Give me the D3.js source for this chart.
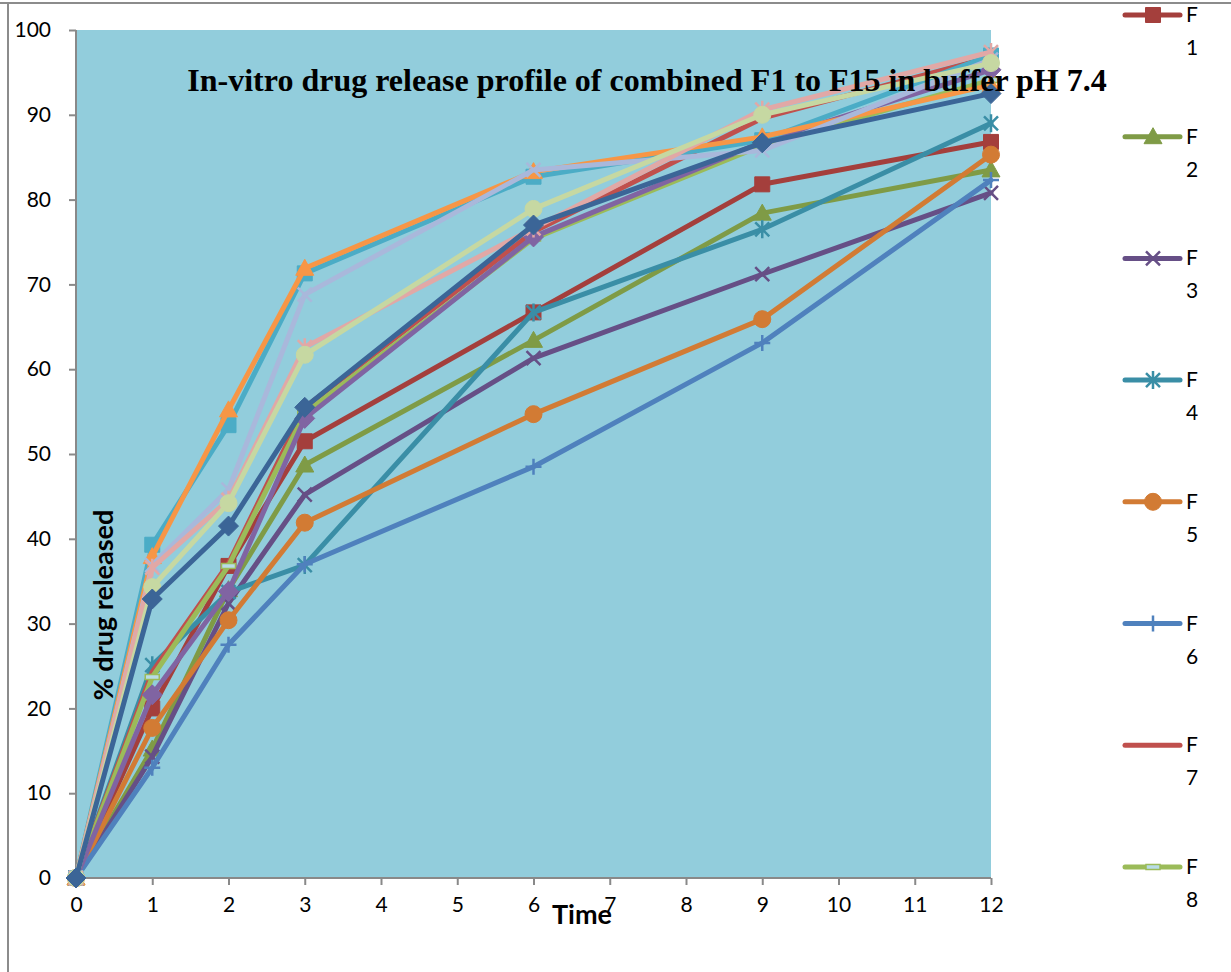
<!DOCTYPE html>
<html>
<head>
<meta charset="utf-8">
<script src="https://cdn.jsdelivr.net/npm/d3@7"></script>
<style>
  body { margin: 0; background: #fff; }
  svg { display: block; }
  .tick text { font-family: Lato, "Open Sans", sans-serif; font-size: 21px; fill: #000; }
</style>
</head>
<body>
<div id="chart"></div>
<script>
// sampling times (h)
const times = [0, 1, 2, 3, 6, 9, 12];

// % drug released per formulation
const F1  = [0, 20.0, 36.8, 51.5, 66.7, 81.8, 86.8];
const F2  = [0, 15.2, 34.0, 48.7, 63.4, 78.4, 83.5];
const F3  = [0, 14.3, 32.4, 45.2, 61.3, 71.2, 80.8];
const F4  = [0, 25.1, 33.7, 36.9, 66.7, 76.5, 89.0];
const F5  = [0, 17.7, 30.4, 41.9, 54.7, 65.9, 85.3];
const F6  = [0, 13.0, 27.5, 37.0, 48.5, 63.1, 82.3];
const F7  = [0, 24.3, 37.1, 55.5, 76.2, 89.6, 96.8];
const F8  = [0, 23.7, 36.8, 54.8, 75.4, 86.4, 94.1];
const F9  = [0, 21.6, 33.8, 54.2, 75.6, 86.8, 95.3];
const F10 = [0, 39.3, 53.4, 71.3, 82.7, 87.0, 97.0];
const F11 = [0, 37.9, 55.2, 71.9, 83.3, 87.4, 93.5];
const F12 = [0, 36.9, 45.8, 68.8, 83.5, 85.8, 96.5];
const F13 = [0, 36.6, 44.6, 62.6, 76.6, 90.6, 97.4];
const F14 = [0, 34.3, 44.2, 61.7, 78.9, 90.0, 96.1];
const F15 = [0, 32.9, 41.5, 55.5, 77.0, 86.7, 92.5];

const seriesNames = ['F1','F2','F3','F4','F5','F6','F7','F8','F9','F10','F11','F12','F13','F14','F15'];
const seriesValues = [F1, F2, F3, F4, F5, F6, F7, F8, F9, F10, F11, F12, F13, F14, F15];
const seriesColors = ['#a43f3c','#7f9b46','#664f86','#3a8ea6','#d27b34','#4f81bd','#c0504d','#9bbb59',
                      '#8064a2','#4bacc6','#f79646','#a9b8db','#e1a8a6','#c6d8a2','#3b6597'];
const seriesMarkers = ['square','triangle','x','star','circle','plus','none','dash',
                       'diamond','square','triangle','x','star','circle','diamond'];

const yTicks = [0, 10, 20, 30, 40, 50, 60, 70, 80, 90, 100];
const xTicks = [0, 1, 2, 3, 4, 5, 6, 7, 8, 9, 10, 11, 12];

const W = 1231, H = 972;
const margin = { left: 76, top: 30, right: 240, bottom: 94 };

const svg = d3.select('#chart').append('svg')
    .attr('width', W)
    .attr('height', H);

// page frame lines
svg.append('line').attr('x1', 0).attr('x2', W).attr('y1', 3).attr('y2', 3)
    .attr('stroke', '#8c8c8c').attr('stroke-width', 2);
svg.append('line').attr('x1', 8).attr('x2', 8).attr('y1', 3).attr('y2', H)
    .attr('stroke', '#8c8c8c').attr('stroke-width', 2);

const x = d3.scaleLinear().domain([0, 12]).range([margin.left, W - margin.right]);
const y = d3.scaleLinear().domain([0, 100]).range([H - margin.bottom, margin.top]);

// plot area
svg.append('rect')
    .attr('x', x(0)).attr('y', y(100))
    .attr('width', x(12) - x(0)).attr('height', y(0) - y(100))
    .attr('fill', '#92cddc');

const yAxis = d3.axisLeft(y).tickValues(yTicks).tickSize(7).tickPadding(18);
const xAxis = d3.axisBottom(x).tickValues(xTicks).tickSize(7).tickPadding(12);

const gy = svg.append('g').attr('transform', `translate(${x(0)},0)`).call(yAxis);
const gx = svg.append('g').attr('transform', `translate(0,${y(0)})`).call(xAxis);
[gx, gy].forEach(g => {
    g.select('.domain').attr('stroke', '#898989').attr('stroke-width', 2);
    g.selectAll('.tick line').attr('stroke', '#898989').attr('stroke-width', 2);
});
gy.select('.domain').attr('d', `M0,${y(0)}V${y(100)}`);
gx.select('.domain').attr('d', `M${x(0)},0H${x(12)}`);

function markerPath(type) {
    switch (type) {
        case 'square': return 'M-7.5,-7.5h15v15h-15Z';
        case 'triangle': return 'M0,-9L9,7L-9,7Z';
        case 'diamond': return 'M0,-10L10,0L0,10L-10,0Z';
        case 'circle': return 'M8.5,0A8.5,8.5 0 1,1 -8.5,0A8.5,8.5 0 1,1 8.5,0Z';
        case 'x': return 'M-7,-7L7,7M-7,7L7,-7';
        case 'star': return 'M-7,-7L7,7M-7,7L7,-7M0,-9V9';
        case 'plus': return 'M-8,0H8M0,-8V8';
        case 'dash': return 'M-7,-2.5h14v5h-14Z';
        default: return '';
    }
}
const strokeMarkers = ['x', 'star', 'plus'];

function drawMarker(g, type, color) {
    if (type === 'none') return;
    const p = g.append('path').attr('d', markerPath(type));
    if (strokeMarkers.includes(type)) {
        p.attr('fill', 'none').attr('stroke', color).attr('stroke-width', 2.5);
    } else if (type === 'dash') {
        p.attr('fill', '#b8dce6').attr('stroke', color).attr('stroke-width', 1.5);
    } else {
        p.attr('fill', color).attr('stroke', color).attr('stroke-width', 1);
    }
}

const line = d3.line()
    .x(d => x(d.t))
    .y(d => y(d.v));

seriesValues.forEach((vals, i) => {
    const pts = times.map((t, j) => ({ t: t, v: vals[j] }));
    const g = svg.append('g').attr('class', 'series');
    g.append('path')
        .datum(pts)
        .attr('d', line)
        .attr('fill', 'none')
        .attr('stroke', seriesColors[i])
        .attr('stroke-width', 5)
        .attr('stroke-linejoin', 'round')
        .attr('stroke-linecap', 'round');
    pts.forEach(d => {
        const m = g.append('g').attr('transform', `translate(${x(d.t)},${y(d.v)})`);
        drawMarker(m, seriesMarkers[i], seriesColors[i]);
    });
});

// title inside plot area
svg.append('text')
    .attr('x', 647)
    .attr('y', 91)
    .attr('text-anchor', 'middle')
    .style('font-family', '"Liberation Serif", "Times New Roman", serif')
    .style('font-weight', 'bold')
    .style('font-size', '32px')
    .text('In-vitro drug release profile of combined F1 to F15 in buffer pH 7.4');

// axis titles
svg.append('text')
    .attr('transform', 'translate(113,605) rotate(-90)')
    .attr('text-anchor', 'middle')
    .style('font-family', 'Lato, "Open Sans", sans-serif')
    .style('font-weight', 'bold')
    .style('font-size', '27px')
    .text('% drug released');

svg.append('text')
    .attr('x', 582)
    .attr('y', 924)
    .attr('text-anchor', 'middle')
    .style('font-family', 'Lato, "Open Sans", sans-serif')
    .style('font-weight', 'bold')
    .style('font-size', '27px')
    .text('Time');

// legend: only the first eight entries fit on the page
const legend = svg.append('g').attr('transform', 'translate(1125,15)');
seriesNames.slice(0, 8).forEach((name, i) => {
    const item = legend.append('g').attr('transform', `translate(0,${i * 121.7})`);
    item.append('line')
        .attr('x1', 0).attr('x2', 55)
        .attr('stroke', seriesColors[i])
        .attr('stroke-width', 5)
        .attr('stroke-linecap', 'round');
    const m = item.append('g').attr('transform', 'translate(28,0)');
    drawMarker(m, seriesMarkers[i], seriesColors[i]);
    const t = item.append('text')
        .attr('x', 61)
        .attr('y', 7)
        .style('font-family', 'Lato, "Open Sans", sans-serif')
        .style('font-size', '21px');
    t.append('tspan').attr('x', 61).text(name.slice(0, 1));
    t.append('tspan').attr('x', 61).attr('dy', 33).text(name.slice(1));
});
</script>
</body>
</html>
